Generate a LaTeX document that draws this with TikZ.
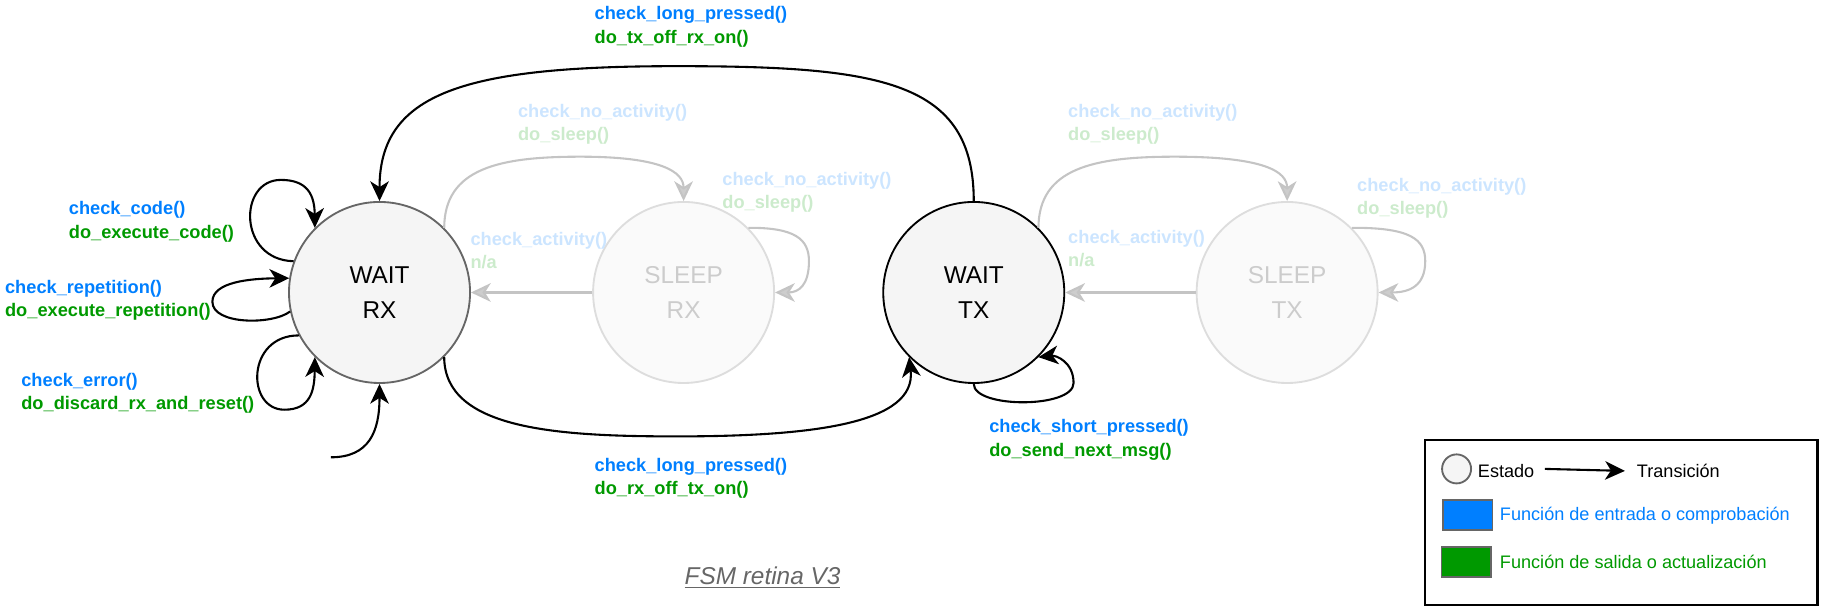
\documentclass[tikz,border=0pt]{standalone}
\usepackage{fontspec}
\setmainfont{Liberation Sans}
\usetikzlibrary{arrows.meta}
\definecolor{cblue}{HTML}{007FFF}
\definecolor{cgreen}{HTML}{009900}
\definecolor{fblue}{HTML}{CCE5FF}
\definecolor{fgreen}{HTML}{CCEBCC}
\definecolor{dgray}{HTML}{666666}
\definecolor{cfill}{HTML}{F5F5F5}
\definecolor{sline}{HTML}{DDDDDD}
\definecolor{stext}{HTML}{CCCCCC}
\definecolor{gline}{HTML}{C4C4C4}
\definecolor{gtip}{HTML}{CDCDCD}
\tikzset{
  state/.style={circle, minimum size=78pt, inner sep=0pt, line width=0.8pt, fill=cfill, align=center, font=\fontsize{10.5}{15}\selectfont},
  sstate/.style={circle, minimum size=78pt, inner sep=0pt, line width=0.8pt, draw=sline, fill=white!98!black, text=stext, align=center, font=\fontsize{10.5}{15}\selectfont},
  tr/.style={line width=0.9pt, -{Stealth[length=8.5pt,width=8pt,inset=2.5pt]}},
  gtr/.style={line width=0.9pt, draw=gline, -{Stealth[length=8.5pt,width=8pt,inset=2.5pt,fill=gtip]}},
  lbl/.style={anchor=west, align=left, inner sep=0pt, font=\bfseries\fontsize{7.85}{10}\selectfont},
  ltxt/.style={anchor=west, inner sep=0pt, font=\fontsize{7.8}{9}\selectfont}
}
\begin{document}
\begin{tikzpicture}[x=0.5pt,y=-0.5pt]
\useasboundingbox (0,0) rectangle (1569,525.6);
% states
\node[state, draw=dgray] (wrx) at (327,252) {WAIT\\RX};
\node[sstate] (srx) at (589,252) {SLEEP\\RX};
\node[state, draw=black] (wtx) at (839,252) {WAIT\\TX};
\node[sstate] (stx) at (1109,252) {SLEEP\\TX};
\coordinate (init) at (285,394);
% black transitions
\draw[tr] (wtx.north) .. controls (839,70) and (760,57) .. (583,57) .. controls (400,57) and (327,80) .. (wrx.north);
\draw[tr] (wrx.-45) .. controls (383,370) and (480,376) .. (583,376) .. controls (700,376) and (790,365) .. (wtx.225);
\draw[tr] (wrx.160) .. controls (205,224) and (205,155) .. (242,155) .. controls (265,155) and (271,168) .. (wrx.135);
\draw[tr] (wrx.192) .. controls (235,280) and (183,280) .. (183,260) .. controls (183,243) and (215,240) .. (wrx.171);
\draw[tr] (wrx.208) .. controls (212,289) and (212,353) .. (245,353) .. controls (268,353) and (271,336) .. (wrx.225);
\draw[tr] (init) .. controls (318,394) and (327,372) .. (wrx.south);
\draw[tr] (wtx.south) .. controls (839,352) and (925,352) .. (925,330) .. controls (925,312) and (910,306) .. (wtx.-45);
% gray transitions
\draw[gtr] (wrx.45) .. controls (383,145) and (430,135) .. (500,135) .. controls (570,135) and (589,148) .. (srx.north);
\draw[gtr] (srx.45) .. controls (685,196) and (697,206) .. (697,225) .. controls (697,246) and (688,252) .. (srx.east);
\draw[gtr] (srx.west) -- (wrx.east);
\draw[gtr] (wtx.45) .. controls (895,145) and (942,135) .. (1012,135) .. controls (1090,135) and (1109,148) .. (stx.north);
\draw[gtr] (stx.45) .. controls (1215,196) and (1228,206) .. (1228,225) .. controls (1228,246) and (1215,252) .. (stx.east);
\draw[gtr] (stx.west) -- (wtx.east);
% labels
\node[lbl] (l1) at (512,23) {\textcolor{cblue}{check\_long\_pressed()}\\\textcolor{cgreen}{do\_tx\_off\_rx\_on()}};
\node[lbl] (l2) at (512,412) {\textcolor{cblue}{check\_long\_pressed()}\\\textcolor{cgreen}{do\_rx\_off\_tx\_on()}};
\node[lbl] (l3) at (59,191) {\textcolor{cblue}{check\_code()}\\\textcolor{cgreen}{do\_execute\_code()}};
\node[lbl] (l4) at (4,259) {\textcolor{cblue}{check\_repetition()}\\\textcolor{cgreen}{do\_execute\_repetition()}};
\node[lbl] (l5) at (18,339) {\textcolor{cblue}{check\_error()}\\\textcolor{cgreen}{do\_discard\_rx\_and\_reset()}};
\node[lbl] (l6) at (852,379) {\textcolor{cblue}{check\_short\_pressed()}\\\textcolor{cgreen}{do\_send\_next\_msg()}};
\node[lbl] (l7) at (446,107) {\textcolor{fblue}{check\_no\_activity()}\\\textcolor{fgreen}{do\_sleep()}};
\node[lbl] (l8) at (622,166) {\textcolor{fblue}{check\_no\_activity()}\\\textcolor{fgreen}{do\_sleep()}};
\node[lbl] (l9) at (405,216) {\textcolor{fblue}{check\_activity()}\\\textcolor{fgreen}{n/a}};
\node[lbl] (l10) at (920,107) {\textcolor{fblue}{check\_no\_activity()}\\\textcolor{fgreen}{do\_sleep()}};
\node[lbl] (l11) at (1169,171) {\textcolor{fblue}{check\_no\_activity()}\\\textcolor{fgreen}{do\_sleep()}};
\node[lbl] (l12) at (920,214) {\textcolor{fblue}{check\_activity()}\\\textcolor{fgreen}{n/a}};
% title
\node[inner sep=0pt, text=dgray, font=\itshape\fontsize{10.5}{12}\selectfont] (title) at (657,498) {\underline{FSM retina V3}};
% legend
\node[draw=black, line width=1pt, minimum width=169pt, minimum height=71pt, anchor=north west, inner sep=0pt] (leg) at (1227,378) {};
\node[circle, draw=dgray, fill=cfill, line width=0.8pt, minimum size=12.5pt, inner sep=0pt] (lc) at (1255,404) {};
\node[ltxt] (le) at (1273,406) {Estado};
\coordinate (la1) at (1331,404);
\node[ltxt] (lt) at (1410,406) {Transición};
\draw[tr, shorten >=5pt] (la1) -- (lt.west);
\node[draw=dgray, fill=cblue, line width=0.8pt, minimum width=21.5pt, minimum height=13pt, inner sep=0pt] (lb) at (1264.5,444) {};
\node[ltxt, text=cblue] (lbt) at (1292,444) {Función de entrada o comprobación};
\node[draw=dgray, fill=cgreen, line width=0.8pt, minimum width=21.5pt, minimum height=13pt, inner sep=0pt] (lg) at (1263.5,484) {};
\node[ltxt, text=cgreen] (lgt) at (1292,484) {Función de salida o actualización};
\end{tikzpicture}
\end{document}
